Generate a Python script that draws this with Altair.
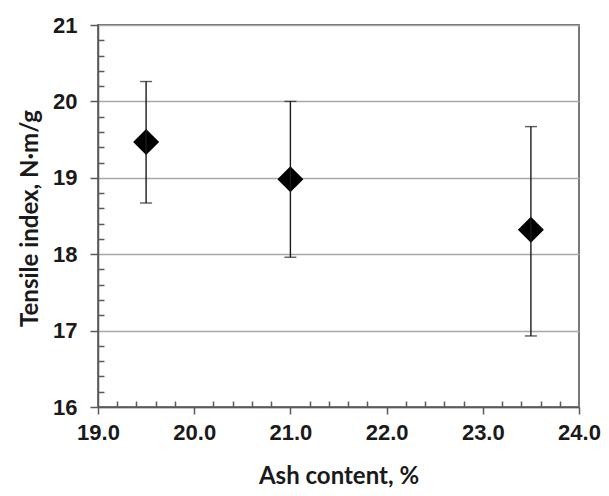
import altair as alt
import pandas as pd

ash = [19.5, 21.0, 23.5]
tensile = [19.47, 18.98, 18.32]
upper = [20.26, 20.00, 19.67]
lower = [18.67, 17.96, 16.93]

x_major = [19.0, 20.0, 21.0, 22.0, 23.0, 24.0]
x_minor = [19.2, 19.4, 19.6, 19.8, 20.2, 20.4, 20.6, 20.8, 21.2, 21.4, 21.6, 21.8,
           22.2, 22.4, 22.6, 22.8, 23.2, 23.4, 23.6, 23.8]
y_major = [16, 17, 18, 19, 20, 21]
y_minor = [16.2, 16.4, 16.6, 16.8, 17.2, 17.4, 17.6, 17.8, 18.2, 18.4, 18.6, 18.8,
           19.2, 19.4, 19.6, 19.8, 20.2, 20.4, 20.6, 20.8]

df = pd.DataFrame({"ash": ash, "tensile": tensile, "upper": upper, "lower": lower})

W, H = 481, 382
LABEL_FONT = "Liberation Sans, Arial, sans-serif"
TITLE_FONT = "Lato, Open Sans, sans-serif"
AX_COLOR = "#5a5a5a"

xscale = alt.Scale(domain=[19, 24], nice=False, zero=False)
yscale = alt.Scale(domain=[16, 21], nice=False, zero=False)

x_major_axis = alt.Axis(
    values=x_major, format=".1f", title="Ash content, %",
    grid=False, domainColor=AX_COLOR, domainWidth=1.5,
    tickColor=AX_COLOR, tickWidth=1.5, tickSize=7,
    labelFont=LABEL_FONT, labelFontSize=22, labelFontWeight="bold",
    labelColor="#1a1a1a", labelPadding=8, labelFlush=False, labelOverlap=False,
    titleFont=TITLE_FONT, titleFontSize=24, titleFontWeight="bold",
    titleColor="#1a1a1a", titleBaseline="alphabetic", titleY=76,
    titleX=W / 2, titleAlign="center",
)
y_major_axis = alt.Axis(
    values=y_major, format="d", title="Tensile index, N·m/g",
    grid=True, gridColor="#a8a8a8", gridWidth=1.5,
    domainColor=AX_COLOR, domainWidth=1.5,
    tickColor=AX_COLOR, tickWidth=1.5, tickSize=8,
    labelFont=LABEL_FONT, labelFontSize=22, labelFontWeight="bold",
    labelColor="#1a1a1a", labelPadding=13, labelFlush=False, labelOverlap=False,
    titleFont=TITLE_FONT, titleFontSize=24, titleFontWeight="bold",
    titleColor="#1a1a1a", titleBaseline="alphabetic", titleAngle=270,
    titleX=-61, titleY=193, titleAlign="center",
)
x_minor_axis = alt.Axis(
    values=x_minor, labels=False, grid=False, domain=False, title=None,
    tickColor=AX_COLOR, tickWidth=1.5, tickSize=6, offset=-6, orient="bottom",
)
y_minor_axis = alt.Axis(
    values=y_minor, labels=False, grid=False, domain=False, title=None,
    tickColor=AX_COLOR, tickWidth=1.5, tickSize=6, offset=-6, orient="left",
)

base = alt.Chart(df)

bars = base.mark_rule(color="#1a1a1a", strokeWidth=1.4).encode(
    x=alt.X("ash:Q", scale=xscale, axis=x_minor_axis),
    y=alt.Y("lower:Q", scale=yscale, axis=y_minor_axis),
    y2="upper:Q",
)
cap_top = base.mark_tick(orient="horizontal", size=12, thickness=1.4, color="#1a1a1a").encode(
    x=alt.X("ash:Q", scale=xscale, axis=None),
    y=alt.Y("upper:Q", scale=yscale, axis=None),
)
cap_bot = base.mark_tick(orient="horizontal", size=12, thickness=1.4, color="#1a1a1a").encode(
    x=alt.X("ash:Q", scale=xscale, axis=None),
    y=alt.Y("lower:Q", scale=yscale, axis=None),
)
points = base.mark_point(shape="diamond", size=676, filled=True, color="#000000", opacity=1).encode(
    x=alt.X("ash:Q", scale=xscale, axis=x_major_axis),
    y=alt.Y("tensile:Q", scale=yscale, axis=y_major_axis),
)

chart = (
    alt.layer(points, bars, cap_top, cap_bot)
    .resolve_axis(x="independent", y="independent")
    .properties(
        width=W, height=H,
        autosize=alt.AutoSizeParams(type="none"),
        padding={"left": 90, "top": 17, "right": 22, "bottom": 81},
        background="white",
    )
    .configure_view(stroke="#6a6a6a", strokeWidth=1.8)
)

chart.save("out.html", embed_options={"renderer": "svg", "actions": False})
